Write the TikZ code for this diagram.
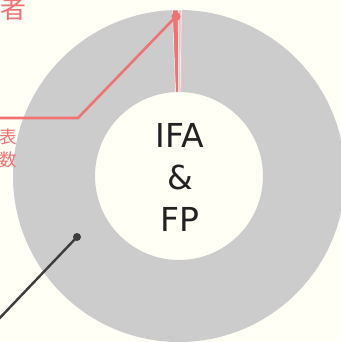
\documentclass[tikz,border=0pt]{standalone}
\usepackage{fontspec}
\setmainfont{Noto Sans CJK JP}
\newfontfamily\centrefont{DejaVu Sans}
\definecolor{bgcol}{HTML}{FFFFF6}
\definecolor{ringgray}{HTML}{CCCCCC}
\definecolor{salmon}{HTML}{F07272}
\definecolor{palepink}{HTML}{F2C4C4}
\definecolor{inktext}{HTML}{222222}
\definecolor{inkline}{HTML}{3C3C3C}
\begin{document}
\begin{tikzpicture}[x=1pt, y=-1pt,
    dot/.style={circle, inner sep=0pt, minimum size=#1},
    slice/.style={draw=white, line width=0.5pt}]
    \useasboundingbox[fill=bgcol] (0,0) rectangle (340,342);
    \coordinate (c) at (179,176);

    % ring
    \fill[ringgray, even odd rule] (c) circle[radius=166] (c) circle[radius=84];
    \filldraw[slice, fill=palepink, shift={(c)}] (-90.3:166) arc[start angle=-90.3, end angle=-89.2, radius=166]
        -- (-89.2:84) arc[start angle=-89.2, end angle=-90.3, radius=84] -- cycle;
    \filldraw[slice, fill=salmon, shift={(c)}] (-92.3:166) arc[start angle=-92.3, end angle=-90.3, radius=166]
        -- (-90.3:84) arc[start angle=-90.3, end angle=-92.3, radius=84] -- cycle;

    \node[text=inktext, font=\centrefont\fontsize{33}{42}\selectfont, align=center] (centre) at (180,177) {IFA\\\&\\FP};

    % labels
    \node[text=salmon, font=\fontsize{26}{26}\selectfont, inner sep=0pt, anchor=south east] (top) at (26.5,21) {者};
    \node[text=salmon, font=\fontsize{17.5}{23}\selectfont, inner sep=0pt, align=right, anchor=east] (side) at (17.5,148) {表\\数};

    % leaders
    \node[dot=9pt, fill=salmon] (d1) at (176,16.5) {};
    \coordinate (b1) at (78,118);
    \coordinate (e1) at (-5,118);
    \draw[salmon, line width=2.6pt] (d1.center) -- (b1) -- (e1);

    \node[dot=8pt, fill=inkline] (d2) at (77,237) {};
    \coordinate (e2) at (-5,323);
    \draw[inkline, line width=2.4pt] (d2.center) -- (e2);
\end{tikzpicture}
\end{document}
